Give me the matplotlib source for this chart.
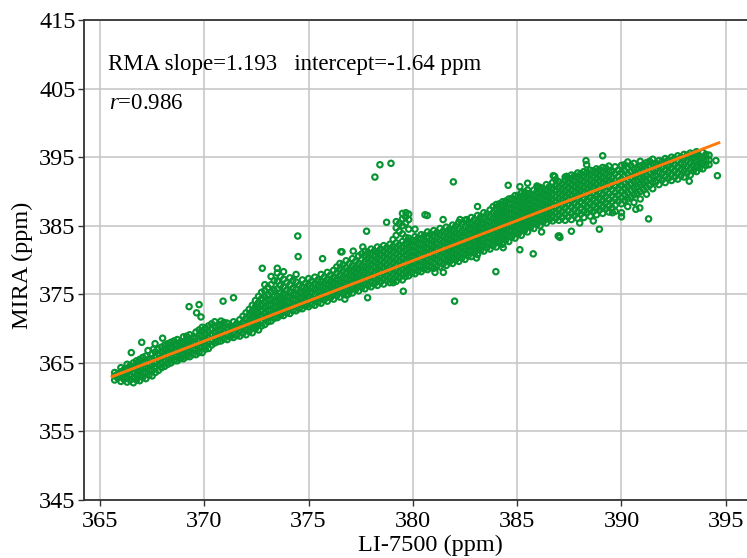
import numpy as np
import matplotlib
matplotlib.use("Agg")
import matplotlib.pyplot as plt

plt.rcParams['font.family'] = ['Liberation Serif', 'DejaVu Serif']
plt.rcParams['mathtext.fontset'] = 'custom'
plt.rcParams['mathtext.it'] = 'Liberation Serif:italic'
plt.rcParams['mathtext.rm'] = 'Liberation Serif'

# --- main band: LI-7500 column positions and MIRA readings in each column (ppm)
li7500_band = [
    365.7, 366.0, 366.3, 366.6, 366.9, 367.2, 367.5, 367.8, 368.1, 368.4,
    368.7, 369.0, 369.3, 369.6, 369.9, 370.2, 370.5, 370.8, 371.1, 371.4,
    371.7, 372.0, 372.3, 372.6, 372.9, 373.2, 373.5, 373.8, 374.1, 374.4,
    374.7, 375.0, 375.3, 375.6, 375.9, 376.2, 376.5, 376.8, 377.1, 377.4,
    377.7, 378.0, 378.3, 378.6, 378.9, 379.2, 379.5, 379.8, 380.1, 380.4,
    380.7, 381.0, 381.3, 381.6, 381.9, 382.2, 382.5, 382.8, 383.1, 383.4,
    383.7, 384.0, 384.3, 384.6, 384.9, 385.2, 385.5, 385.8, 386.1, 386.4,
    386.7, 387.0, 387.3, 387.6, 387.9, 388.2, 388.5, 388.8, 389.1, 389.4,
    389.7, 390.0, 390.3, 390.6, 390.9, 391.2, 391.5, 391.8, 392.1, 392.4,
    392.7, 393.0, 393.3, 393.6, 393.9, 394.2,
]
mira_band = [
    [362.5, 363.1, 363.6],
    [362.3, 363.0, 363.7, 364.3],
    [362.2, 362.9, 363.6, 364.2, 364.8],
    [362.1, 362.8, 363.6, 364.3, 365.0],
    [362.4, 363.1, 363.9, 364.7, 365.5],
    [362.7, 363.5, 364.3, 365.2, 366.0],
    [363.1, 363.9, 364.7, 365.5, 366.3],
    [363.9, 364.7, 365.5, 366.3, 367.0],
    [364.5, 365.3, 366.1, 366.9, 367.6],
    [365.0, 365.8, 366.6, 367.3, 368.0],
    [365.3, 366.1, 366.9, 367.7, 368.4],
    [365.6, 366.4, 367.2, 368.0, 368.8],
    [365.9, 366.7, 367.5, 368.3, 369.1],
    [366.2, 367.0, 367.8, 368.7, 369.5],
    [366.5, 367.3, 368.1, 368.9, 369.7, 370.2],
    [367.1, 367.9, 368.7, 369.5, 370.4],
    [367.9, 368.7, 369.5, 370.3, 371.0],
    [368.2, 369.0, 369.8, 370.6, 371.1],
    [368.4, 369.2, 370.0, 370.8],
    [368.7, 369.5, 370.3, 371.0],
    [368.9, 369.7, 370.5, 371.3],
    [369.1, 369.9, 370.7, 371.5, 372.3],
    [369.4, 370.2, 371.0, 371.8, 372.6, 373.4],
    [369.8, 370.6, 371.4, 372.2, 373.0, 373.8, 374.7],
    [370.6, 371.4, 372.2, 373.0, 373.8, 374.6, 375.5, 376.4],
    [371.1, 371.9, 372.7, 373.5, 374.3, 375.3, 376.4, 377.6],
    [371.6, 372.4, 373.2, 374.0, 374.8, 375.8, 376.9, 378.1],
    [371.9, 372.7, 373.5, 374.3, 375.1, 376.1, 377.2, 378.3],
    [372.2, 373.0, 373.8, 374.6, 375.4, 376.4, 377.4],
    [372.6, 373.4, 374.2, 375.0, 375.8, 376.8, 377.9],
    [372.9, 373.7, 374.5, 375.3, 376.1, 377.1],
    [373.2, 374.0, 374.8, 375.6, 376.4, 377.3],
    [373.4, 374.2, 375.0, 375.8, 376.6, 377.5],
    [373.7, 374.5, 375.3, 376.1, 376.9, 377.9],
    [374.0, 374.8, 375.6, 376.4, 377.2, 378.2],
    [374.3, 375.1, 375.9, 376.7, 377.5, 378.5],
    [374.6, 375.4, 376.2, 377.0, 377.8, 378.7, 379.5],
    [374.9, 375.7, 376.5, 377.3, 378.1, 378.9, 379.9],
    [375.2, 376.0, 376.8, 377.6, 378.4, 379.2, 380.2],
    [375.5, 376.3, 377.1, 377.9, 378.7, 379.5, 380.6],
    [375.8, 376.6, 377.4, 378.2, 379.0, 379.8, 380.6, 381.3],
    [376.1, 376.9, 377.7, 378.5, 379.3, 380.1, 380.9, 381.6],
    [376.3, 377.1, 377.9, 378.7, 379.5, 380.3, 381.1, 381.9],
    [376.5, 377.3, 378.1, 378.9, 379.7, 380.5, 381.3, 382.1],
    [376.7, 377.5, 378.3, 379.1, 379.9, 380.7, 381.5, 382.3],
    [376.9, 377.7, 378.5, 379.3, 380.1, 380.9, 381.7, 382.5, 383.6, 384.7, 385.6],
    [377.1, 377.9, 378.7, 379.5, 380.3, 381.1, 381.9, 382.7, 383.8, 385.0, 386.0, 386.8],
    [377.7, 378.5, 379.3, 380.1, 380.9, 381.7, 382.5, 383.2, 384.5, 385.9, 386.7],
    [378.0, 378.8, 379.6, 380.4, 381.2, 382.0, 382.8, 383.4],
    [378.3, 379.1, 379.9, 380.7, 381.5, 382.3, 383.1, 383.7],
    [378.6, 379.4, 380.2, 381.0, 381.8, 382.6, 383.4, 384.1],
    [378.8, 379.6, 380.4, 381.2, 382.0, 382.8, 383.6, 384.3],
    [379.0, 379.8, 380.6, 381.4, 382.2, 383.0, 383.8, 384.6],
    [379.2, 380.0, 380.8, 381.6, 382.4, 383.2, 384.0, 384.8],
    [379.5, 380.3, 381.1, 381.9, 382.7, 383.5, 384.3, 385.1],
    [379.8, 380.6, 381.4, 382.2, 383.0, 383.8, 384.6, 385.5],
    [380.1, 380.9, 381.7, 382.5, 383.3, 384.1, 384.9, 385.8],
    [380.5, 381.3, 382.1, 382.9, 383.7, 384.5, 385.3, 386.2],
    [380.8, 381.6, 382.4, 383.2, 384.0, 384.8, 385.6, 386.5],
    [381.3, 382.1, 382.9, 383.7, 384.5, 385.3, 386.1, 386.9],
    [381.6, 382.4, 383.2, 384.0, 384.8, 385.6, 386.4, 387.3],
    [381.9, 382.7, 383.5, 384.3, 385.1, 385.9, 386.7, 387.5, 388.1],
    [382.3, 383.1, 383.9, 384.7, 385.5, 386.3, 387.1, 387.9, 388.5],
    [382.7, 383.5, 384.3, 385.1, 385.9, 386.7, 387.5, 388.3, 388.9],
    [383.2, 384.0, 384.8, 385.6, 386.4, 387.2, 388.0, 388.8, 389.4],
    [383.6, 384.4, 385.2, 386.0, 386.8, 387.6, 388.4, 389.2, 389.8],
    [384.1, 384.9, 385.7, 386.5, 387.3, 388.1, 388.9, 389.7, 390.2],
    [384.6, 385.4, 386.2, 387.0, 387.8, 388.6, 389.4, 390.2],
    [385.0, 385.8, 386.6, 387.4, 388.2, 389.0, 389.8, 390.6],
    [385.4, 386.2, 387.0, 387.8, 388.6, 389.4, 390.2, 391.0],
    [385.7, 386.5, 387.3, 388.1, 388.9, 389.7, 390.5, 391.3],
    [385.8, 386.6, 387.4, 388.2, 389.0, 389.8, 390.6, 391.4],
    [385.8, 386.7, 387.6, 388.4, 389.2, 390.0, 390.8, 391.6, 392.1],
    [385.9, 386.8, 387.7, 388.6, 389.4, 390.2, 391.0, 391.8, 392.4],
    [386.1, 387.0, 387.9, 388.8, 389.6, 390.4, 391.2, 392.0, 392.7],
    [386.2, 387.1, 388.0, 388.9, 389.8, 390.6, 391.4, 392.2, 392.9],
    [386.4, 387.3, 388.2, 389.1, 390.0, 390.8, 391.6, 392.4, 393.1],
    [386.6, 387.5, 388.4, 389.3, 390.2, 391.0, 391.8, 392.6, 393.3],
    [386.8, 387.7, 388.6, 389.5, 390.4, 391.2, 392.0, 392.8, 393.5],
    [387.0, 387.9, 388.8, 389.7, 390.6, 391.4, 392.2, 393.0, 393.7],
    [387.1, 388.0, 388.9, 389.8, 390.7, 391.6, 392.6, 393.6],
    [386.9, 388.2, 389.1, 390.0, 390.9, 391.8, 392.8, 393.8],
    [387.8, 388.9, 389.8, 390.7, 391.6, 392.5, 393.5, 394.3],
    [388.4, 389.5, 390.5, 391.4, 392.3, 393.2, 394.1],
    [388.9, 390.0, 391.0, 391.9, 392.8, 393.7, 394.4],
    [389.6, 390.6, 391.5, 392.4, 393.3, 394.2],
    [390.4, 391.3, 392.2, 393.1, 394.0, 394.7],
    [391.0, 391.9, 392.8, 393.7, 394.5],
    [391.3, 392.2, 393.1, 394.0, 394.8],
    [391.6, 392.5, 393.4, 394.3, 395.0],
    [391.8, 392.7, 393.6, 394.5, 395.2],
    [392.1, 393.0, 393.9, 394.8, 395.4],
    [392.4, 393.3, 394.2, 395.0, 395.6],
    [392.9, 393.7, 394.5, 395.3, 395.8],
    [393.3, 394.1, 394.9, 395.7],
    [393.9, 394.6, 395.3],
]

# --- second pass of readings between the columns above
li7500_band2 = [
    365.85, 366.15, 366.45, 366.75, 367.05, 367.35, 367.65, 367.95, 368.25, 368.55,
    368.85, 369.15, 369.45, 369.75, 370.05, 370.35, 370.65, 370.95, 371.25, 371.55,
    371.85, 372.15, 372.45, 372.75, 373.05, 373.35, 373.65, 373.95, 374.25, 374.55,
    374.85, 375.15, 375.45, 375.75, 376.05, 376.35, 376.65, 376.95, 377.25, 377.55,
    377.85, 378.15, 378.45, 378.75, 379.05, 379.35, 379.65, 379.95, 380.25, 380.55,
    380.85, 381.15, 381.45, 381.75, 382.05, 382.35, 382.65, 382.95, 383.25, 383.55,
    383.85, 384.15, 384.45, 384.75, 385.05, 385.35, 385.65, 385.95, 386.25, 386.55,
    386.85, 387.15, 387.45, 387.75, 388.05, 388.35, 388.65, 388.95, 389.25, 389.55,
    389.85, 390.15, 390.45, 390.75, 391.05, 391.35, 391.65, 391.95, 392.25, 392.55,
    392.85, 393.15, 393.45, 393.75, 394.05,
]
mira_band2 = [
    [362.8, 363.4],
    [362.6, 363.3, 364.0],
    [362.5, 363.2, 363.9, 364.6],
    [362.5, 363.2, 364.0, 364.7, 365.3],
    [362.9, 363.6, 364.4, 365.1, 365.8],
    [363.2, 364.0, 364.8, 365.6],
    [363.6, 364.4, 365.1, 365.9, 366.6],
    [364.3, 365.0, 365.8, 366.6, 367.3],
    [364.8, 365.6, 366.4, 367.1, 367.8],
    [365.3, 366.0, 366.8, 367.6, 368.2],
    [365.6, 366.4, 367.2, 368.0],
    [365.9, 366.7, 367.5, 368.3, 368.9],
    [366.2, 367.0, 367.9, 368.7],
    [366.5, 367.3, 368.2, 369.0, 369.8],
    [367.0, 367.7, 368.5, 369.3, 370.1],
    [367.6, 368.3, 369.1, 369.9, 370.7],
    [368.1, 368.9, 369.7, 370.5],
    [368.5, 369.4, 370.2, 370.9],
    [368.8, 369.6, 370.4],
    [369.0, 369.9, 370.7],
    [369.3, 370.1, 370.9, 371.8],
    [369.6, 370.4, 371.2, 372.0, 372.8],
    [370.0, 370.8, 371.6, 372.4, 373.2, 374.1],
    [370.4, 371.2, 372.0, 372.8, 373.6, 374.4, 375.3],
    [371.0, 371.8, 372.6, 373.4, 374.2, 375.0, 376.0],
    [371.5, 372.3, 373.1, 373.9, 374.7, 375.6, 377.0],
    [371.9, 372.7, 373.5, 374.3, 375.2, 376.3, 377.6],
    [372.3, 373.1, 373.9, 374.7, 375.6, 376.7],
    [372.6, 373.4, 374.2, 375.0, 375.9, 377.0],
    [372.9, 373.7, 374.5, 375.3, 376.3],
    [373.3, 374.1, 374.9, 375.7, 376.6],
    [373.5, 374.3, 375.2, 376.0, 376.9],
    [373.8, 374.6, 375.5, 376.3, 377.1],
    [374.2, 375.0, 375.8, 376.6, 377.5],
    [374.5, 375.3, 376.1, 376.9, 377.8],
    [374.8, 375.6, 376.4, 377.2, 378.1, 379.0],
    [375.1, 375.9, 376.7, 377.5, 378.4, 379.3],
    [375.4, 376.2, 377.0, 377.8, 378.6, 379.5],
    [375.7, 376.5, 377.3, 378.1, 378.9, 379.8],
    [376.0, 376.8, 377.6, 378.4, 379.2, 380.1, 380.9],
    [376.3, 377.1, 377.9, 378.7, 379.5, 380.3, 381.1],
    [376.5, 377.3, 378.1, 378.9, 379.7, 380.5, 381.3],
    [376.8, 377.6, 378.4, 379.2, 380.0, 380.8, 381.6],
    [377.0, 377.8, 378.6, 379.4, 380.2, 381.0, 381.8],
    [377.2, 378.0, 378.8, 379.6, 380.4, 381.2, 382.0, 383.0],
    [377.4, 378.2, 379.0, 379.8, 380.6, 381.4, 382.2, 384.2, 385.3],
    [377.6, 378.4, 379.2, 380.0, 380.8, 381.6, 382.4, 383.3, 385.4, 386.3],
    [378.1, 378.9, 379.7, 380.5, 381.3, 382.1, 382.9],
    [378.4, 379.2, 380.0, 380.8, 381.6, 382.4, 383.2],
    [378.7, 379.5, 380.3, 381.1, 381.9, 382.7, 383.6],
    [378.9, 379.7, 380.5, 381.3, 382.1, 382.9, 383.8],
    [379.1, 380.0, 380.8, 381.6, 382.4, 383.2, 384.0],
    [379.4, 380.2, 381.0, 381.8, 382.6, 383.4, 384.2],
    [379.7, 380.5, 381.3, 382.1, 382.9, 383.7, 384.5],
    [380.0, 380.8, 381.6, 382.4, 383.2, 384.0, 384.9],
    [380.3, 381.1, 381.9, 382.7, 383.5, 384.3, 385.2],
    [380.6, 381.4, 382.2, 383.0, 383.8, 384.6, 385.5],
    [381.0, 381.8, 382.6, 383.4, 384.2, 385.0, 385.9],
    [381.4, 382.2, 383.0, 383.8, 384.6, 385.4, 386.3],
    [381.8, 382.6, 383.4, 384.2, 385.0, 385.8, 386.7],
    [382.1, 382.9, 383.7, 384.5, 385.3, 386.1, 386.9, 387.8],
    [382.5, 383.3, 384.1, 384.9, 385.7, 386.5, 387.3, 388.2],
    [382.9, 383.7, 384.5, 385.3, 386.1, 386.9, 387.7, 388.6],
    [383.4, 384.2, 385.0, 385.8, 386.6, 387.4, 388.2, 389.0],
    [383.8, 384.6, 385.4, 386.2, 387.0, 387.8, 388.6, 389.4],
    [384.3, 385.1, 385.9, 386.7, 387.5, 388.3, 389.1, 389.9],
    [384.8, 385.6, 386.4, 387.2, 388.0, 388.8, 389.6],
    [385.2, 386.0, 386.8, 387.6, 388.4, 389.2, 390.0, 390.8],
    [385.6, 386.4, 387.2, 388.0, 388.8, 389.6, 390.4],
    [385.9, 386.7, 387.5, 388.3, 389.1, 389.9, 390.7],
    [386.1, 386.9, 387.7, 388.5, 389.3, 390.1, 390.9, 391.7],
    [386.2, 387.0, 387.9, 388.7, 389.5, 390.3, 391.1],
    [386.3, 387.2, 388.1, 388.9, 389.7, 390.5, 391.3, 392.0],
    [386.5, 387.4, 388.3, 389.1, 389.9, 390.7, 391.5, 392.3],
    [386.7, 387.6, 388.5, 389.4, 390.2, 391.0, 391.8, 392.6],
    [386.9, 387.8, 388.7, 389.6, 390.4, 391.2, 392.0, 392.8],
    [387.1, 388.0, 388.9, 389.8, 390.6, 391.4, 392.2, 393.0],
    [387.3, 388.2, 389.1, 390.0, 390.8, 391.6, 392.4, 393.2],
    [387.5, 388.4, 389.3, 390.2, 391.0, 391.8, 392.6, 393.4],
    [387.6, 388.5, 389.4, 390.3, 391.2, 392.0, 392.9],
    [388.6, 389.5, 390.4, 391.3, 392.2, 393.1],
    [388.7, 389.6, 390.5, 391.3, 392.2, 393.0, 393.9],
    [389.2, 390.2, 391.1, 392.0, 392.9, 393.8],
    [389.7, 390.7, 391.6, 392.5, 393.4],
    [390.3, 391.2, 392.1, 393.0, 393.9],
    [390.9, 391.8, 392.7, 393.6, 394.4],
    [391.4, 392.3, 393.2, 394.1],
    [391.7, 392.6, 393.5, 394.4],
    [391.9, 392.8, 393.7, 394.6],
    [392.1, 393.0, 393.9, 394.8],
    [392.3, 393.2, 394.1, 395.0],
    [392.7, 393.6, 394.5, 395.3],
    [393.0, 393.9, 394.8, 395.5],
    [393.4, 394.3, 395.1],
    [393.8, 394.6, 395.4],
]

# --- scattered points away from the main band
li7500_out = [
    366.5, 367.0, 367.56, 367.64, 367.3, 368.0, 369.27, 369.75, 369.63, 369.84,
    370.9, 371.4, 372.78, 373.5, 374.5, 374.48, 375.67, 376.55, 377.78, 378.74,
    376.74, 377.83, 379.54, 378.18, 378.42, 378.95, 381.94, 380.69, 379.67, 377.6,
    377.14, 376.6, 376.9, 383.05, 384.33, 385.13, 385.77, 387.05, 386.17, 384.57,
    385.13, 385.5, 386.0, 386.8, 387.37, 381.45, 380.58, 380.1, 382.26, 382.58,
    383.1, 381.06, 381.46, 383.98, 382.0, 379.06, 386.97, 389.1, 394.6, 394.53,
    391.3, 390.0, 388.94, 389.57, 390.69, 393.25, 390.88, 387.02, 387.6, 388.0,
    388.65, 388.3, 388.33, 386.73,
]
mira_out = [
    366.5, 368.0, 367.0, 367.8, 366.8, 368.6, 373.2, 373.5, 372.3, 371.7,
    374.0, 374.5, 378.8, 378.8, 380.5, 383.5, 380.2, 381.2, 384.2, 385.5,
    374.3, 374.5, 375.45, 392.1, 393.9, 394.1, 391.4, 386.5, 386.9, 381.9,
    381.3, 381.2, 375.0, 380.3, 381.8, 381.5, 380.9, 383.3, 384.1, 390.9,
    390.7, 391.2, 390.6, 392.2, 392.2, 385.9, 386.6, 384.5, 385.9, 385.9,
    387.8, 378.2, 378.2, 378.3, 374.0, 376.7, 383.5, 395.2, 392.3, 394.5,
    386.0, 386.3, 384.5, 386.9, 387.4, 391.5, 387.6, 383.5, 384.2, 385.4,
    385.7, 394.5, 393.9, 392.3,
]

# --- RMA fit line end points
fit_x = [365.58, 394.67]
fit_y = [363.0, 397.1]

x_ticks = [365, 370, 375, 380, 385, 390, 395]
y_ticks = [345, 355, 365, 375, 385, 395, 405, 415]


def flatten(cols_x, cols_y):
    assert len(cols_x) == len(cols_y)
    xs = np.concatenate([[x] * len(ys) for x, ys in zip(cols_x, cols_y)])
    return xs, np.concatenate(cols_y)


bx1, by1 = flatten(li7500_band, mira_band)
bx2, by2 = flatten(li7500_band2, mira_band2)
all_x = np.concatenate([bx1, bx2, li7500_out])
all_y = np.concatenate([by1, by2, mira_out])

fig = plt.figure(figsize=(7.47, 5.58), dpi=100)
ax = fig.add_axes([0.1124, 0.1039, 0.8876, 0.8602])

ax.scatter(all_x, all_y, s=15, facecolors='none', edgecolors='#079432',
           linewidths=1.55, zorder=3)
ax.plot(fit_x, fit_y, color='#FF7A0A', linewidth=2.1, zorder=4)

ax.set_xlim(364.23, 396.02)
ax.set_ylim(345, 415)
ax.set_xticks(x_ticks)
ax.set_yticks(y_ticks)
ax.grid(True, color='#c4c4c4', linewidth=1.1)
ax.set_axisbelow(True)

for side in ['left', 'bottom', 'top']:
    ax.spines[side].set_color('#333333')
    ax.spines[side].set_linewidth(1.3)
ax.spines['right'].set_visible(False)
ax.tick_params(axis='both', labelsize=17.5, length=4, width=1, color='#333333')
ax.tick_params(axis='x', pad=4)
ax.tick_params(axis='y', pad=2)

ax.set_xlabel('LI-7500 (ppm)', fontsize=17.5)
ax.xaxis.set_label_coords(0.522, -0.094)
ax.xaxis.label.set_va('center')
ax.set_ylabel('MIRA (ppm)', fontsize=17.5)
ax.yaxis.set_label_coords(-0.093, 0.49)
ax.yaxis.label.set_va('center')

ax.text(365.38, 408.5, 'RMA slope=1.193   intercept=-1.64 ppm', fontsize=16.5,
        va='center', ha='left')
ax.text(365.45, 402.8, '$r$=0.986', fontsize=16.5, va='center', ha='left')

fig.savefig('out.png', dpi=100)
